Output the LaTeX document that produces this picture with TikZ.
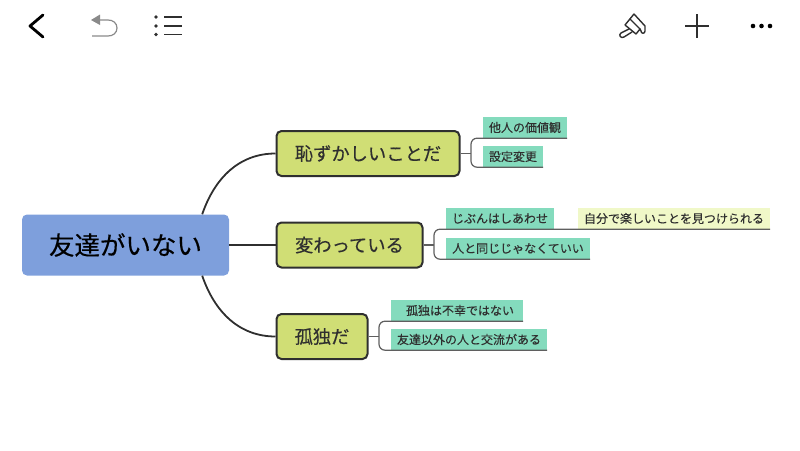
\documentclass[tikz,border=0pt]{standalone}
\usepackage{fontspec}
\setmainfont{Noto Sans CJK JP}
\newfontfamily\jpm[FakeBold=0.35]{Noto Sans CJK JP}
\newfontfamily\jpl[FakeBold=0.2]{Noto Sans CJK JP}
\definecolor{rootc}{HTML}{7E9FDC}
\definecolor{topicc}{HTML}{D0DE75}
\definecolor{leafc}{HTML}{84DBBD}
\definecolor{notec}{HTML}{F0F8C8}
\definecolor{ink}{HTML}{2F2F2F}
\definecolor{brk}{HTML}{5F5F5F}
\definecolor{undoc}{HTML}{8A8A8A}
\tikzset{
 rootbox/.style={fill=rootc,rounded corners=5pt,inner sep=0pt,text=black,font=\jpm\fontsize{25.5}{28}\selectfont},
 topicbox/.style={fill=topicc,draw=ink,line width=2pt,rounded corners=5pt,inner sep=0pt,text=ink,font=\jpm\fontsize{18.3}{20}\selectfont},
 leafbox/.style={fill=leafc,inner sep=0pt,text=ink,font=\jpl\fontsize{12}{14}\selectfont},
 notebox/.style={fill=notec,inner sep=0pt,text=ink,font=\jpl\fontsize{12}{14}\selectfont},
 trunk/.style={draw=ink,line width=1.8pt},
 bracket/.style={draw=brk,line width=1.2pt,rounded corners=6pt},
 stem/.style={draw=brk,line width=1.2pt},
 icon/.style={draw=ink,line width=1.4pt,line cap=round,line join=round},
}
\begin{document}
\begin{tikzpicture}[x=1pt,y=-1pt]
\useasboundingbox (0,0) rectangle (800,450);
\node[rootbox,minimum width=207pt,minimum height=61pt] (root) at (125.5,245) {友達がいない};
\node[topicbox,minimum width=183pt,minimum height=45pt] (t1) at (368,153.5) {恥ずかしいことだ};
\node[topicbox,minimum width=146pt,minimum height=45pt] (t2) at (349.5,245) {変わっている};
\node[topicbox,minimum width=91pt,minimum height=45pt] (t3) at (322,336.5) {孤独だ};
\node[leafbox,minimum width=84pt,minimum height=21pt] (a1) at (525,127.5) {他人の価値観};
\node[leafbox,minimum width=60pt,minimum height=21pt] (a2) at (513,156.5) {設定変更};
\node[leafbox,minimum width=108pt,minimum height=21pt] (b1) at (500,218.5) {じぶんはしあわせ};
\node[notebox,minimum width=192pt,minimum height=21pt] (b3) at (674,218.5) {自分で楽しいことを見つけられる};
\node[leafbox,minimum width=144pt,minimum height=21pt] (b2) at (518,248.5) {人と同じじゃなくていい};
\node[leafbox,minimum width=132pt,minimum height=21pt] (c1) at (457,310.5) {\hspace*{6pt}孤独は不幸ではない};
\node[leafbox,minimum width=156pt,minimum height=21pt] (c2) at (469,339.5) {友達以外の人と交流がある};
% trunk connectors
\draw[trunk] (root.north east) ++(-27,0) coordinate (r1) .. controls (215,177) and (240,153.5) .. (t1.west);
\draw[trunk] (root.east) -- (t2.west);
\draw[trunk] (root.south east) ++(-27,0) coordinate (r3) .. controls (215,313) and (240,336.5) .. (t3.west);
% brackets
\coordinate (j1) at (471,153.5);
\coordinate (j2) at (434,245);
\coordinate (j3) at (379,336.5);
\draw[stem] (t1.east) -- (j1);
\draw[stem] (t2.east) -- (j2);
\draw[stem] (t3.east) -- (j3);
\draw[bracket] (a1.south east) -- (a1.south west) -- (j1 |- a1.south) -- (j1 |- a2.south) -- (a2.south west) -- (a2.south east);
\draw[bracket] (b3.south east) -- (b3.south west) -- (j2 |- b1.south) -- (j2 |- b2.south) -- (b2.south west) -- (b2.south east);
\draw[bracket] (c1.south east) -- (c1.south west) -- (j3 |- c1.south) -- (j3 |- c2.south) -- (c2.south west) -- (c2.south east);
% toolbar icons
\draw[black,line width=2.8pt,line cap=round,line join=round] (43,15) -- (30,26) -- (43,37);
\draw[draw=undoc,line width=1.2pt] (98,20) -- (108,20) .. controls (113,20) and (117,23) .. (117,28) .. controls (117,33) and (113,36) .. (108,36) -- (92,36);
\fill[undoc] (91,20) -- (100,14.5) -- (100,25) -- cycle;
\foreach \yy in {17,26,34.5}{
 \fill[ink] (156,\yy) circle (1.8);
 \draw[ink,line width=1.3pt] (164,\yy) -- (182,\yy);
}
% brush
\draw[icon] (629,29) -- (621,33) .. controls (618,35) and (621,39) .. (624,37) -- (632,32);
\draw[icon] (625,25) -- (634,14) -- (645,26) -- (645,31) .. controls (645,34) and (641,34) .. (641,31) -- (640,29) -- (636,34) -- cycle;
\draw[icon] (630,19) -- (640,29);
\draw[ink,line width=1.3pt] (685,26) -- (709,26) (697,14) -- (697,38);
\foreach \xx in {753,761.5,770}\fill[black] (\xx,26) circle (2.3);
\end{tikzpicture}
\end{document}
